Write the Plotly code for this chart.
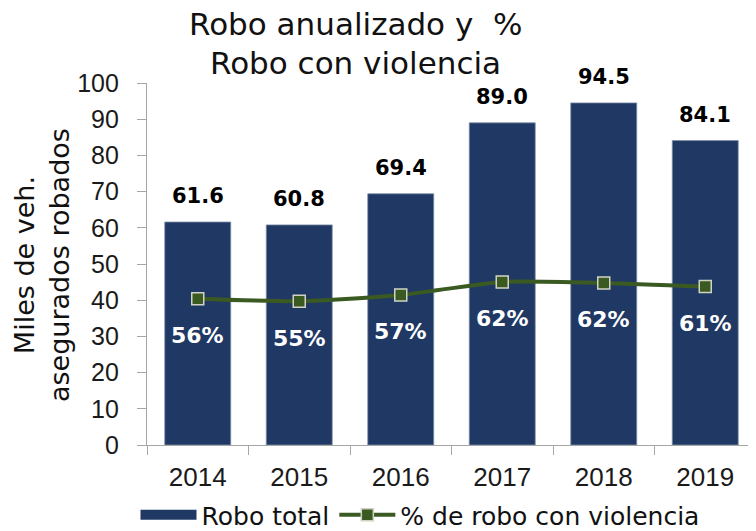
import plotly.graph_objects as go

years = ["2014", "2015", "2016", "2017", "2018", "2019"]
robo_total = [61.6, 60.8, 69.4, 89.0, 94.5, 84.1]
pct_violencia = [56.0, 55.0, 57.4, 62.4, 62.0, 60.6]
y_ticks = list(range(0, 101, 10))

NAVY = "#203864"
GREEN = "#3A5A22"
TXT = "DejaVu Sans, sans-serif"
NUM = "Liberation Sans, Arial, sans-serif"

# page body has an 8px default margin: figure is 8px smaller and offsets are compensated
W, H = 748, 523
L, T, B = 139, 75, 86
PH = H - T - B  # plot height in px
PW = W - L

fig = go.Figure()
fig.add_trace(go.Bar(
    x=years, y=robo_total, name="Robo total", showlegend=False,
    marker=dict(color=NAVY, line=dict(color="#7F8FA9", width=0.8)),
    yaxis="y",
))
# legend swatch for the bars (wide navy block)
fig.add_trace(go.Scatter(
    x=[None], y=[None], name="Robo total", mode="lines",
    line=dict(color=NAVY, width=15), showlegend=True,
))
fig.add_trace(go.Scatter(
    x=years, y=pct_violencia, name="% de robo con violencia",
    mode="lines+markers",
    line=dict(color=GREEN, width=4, shape="spline", smoothing=0.6),
    marker=dict(symbol="square", size=12, color=GREEN, line=dict(color="#D0D3C4", width=1.5)),
    yaxis="y2",
))

def px_x(p):  # figure pixel x -> paper
    return (p - L) / PW

def px_y(p):  # figure pixel y -> paper
    return (T + PH - p) / PH

anns = []
# category axis: annotation positions given as category index
for i, v in enumerate(robo_total):
    anns.append(dict(x=i, y=v, xref="x", yref="y", text=f"<b>{v:.1f}</b>",
                     showarrow=False, yanchor="middle", yshift=26,
                     font=dict(family=TXT, size=21, color="#000000")))
for i, p in enumerate(pct_violencia):
    anns.append(dict(x=i, y=p, xref="x", yref="y2", text=f"<b>{p:.0f}%</b>",
                     showarrow=False, yanchor="middle", yshift=-37,
                     font=dict(family=TXT, size=22, color="#FFFFFF")))
anns.append(dict(text="Robo anualizado y  %", xref="paper", yref="paper",
                 x=px_x(347), y=px_y(16), showarrow=False, yanchor="middle",
                 font=dict(family=TXT, size=31, color="#111111")))
anns.append(dict(text="Robo con violencia", xref="paper", yref="paper",
                 x=px_x(347), y=px_y(55), showarrow=False, yanchor="middle",
                 font=dict(family=TXT, size=31, color="#111111")))
anns.append(dict(text="Miles de veh.<br>asegurados robados", xref="paper", yref="paper",
                 x=px_x(34), y=px_y(257), textangle=-90,
                 showarrow=False, xanchor="center", yanchor="middle",
                 font=dict(family=TXT, size=27, color="#111111")))

fig.update_layout(
    width=W, height=H,
    margin=dict(l=L, r=0, t=T, b=B, autoexpand=False),
    paper_bgcolor="white", plot_bgcolor="white",
    font=dict(family=TXT, size=20, color="#222222"),
    bargap=0.35,
    showlegend=True,
    legend=dict(orientation="h", x=px_x(412), xanchor="center", yref="container",
                y=(H - 507) / H, yanchor="middle", itemwidth=56,
                font=dict(family=TXT, size=25, color="#111111"),
                traceorder="normal"),
    xaxis=dict(type="category", showline=True, linecolor="#A6A6A6", linewidth=1.2,
               ticks="outside", tickson="boundaries", ticklen=9, tickcolor="#A6A6A6",
               ticklabelstandoff=9, automargin=False,
               tickfont=dict(family=NUM, size=26, color="#1a1a1a"), showgrid=False),
    yaxis=dict(range=[0, 100], tickvals=y_ticks, showline=True, linecolor="#A6A6A6",
               linewidth=1.2, ticks="outside", ticklen=9, tickcolor="#A6A6A6",
               ticklabelstandoff=13, automargin=False,
               showgrid=False, zeroline=False,
               tickfont=dict(family=NUM, size=25, color="#1a1a1a")),
    yaxis2=dict(range=[0, 138.5], overlaying="y", visible=False),
    annotations=anns,
)

fig.write_html("out.html")
